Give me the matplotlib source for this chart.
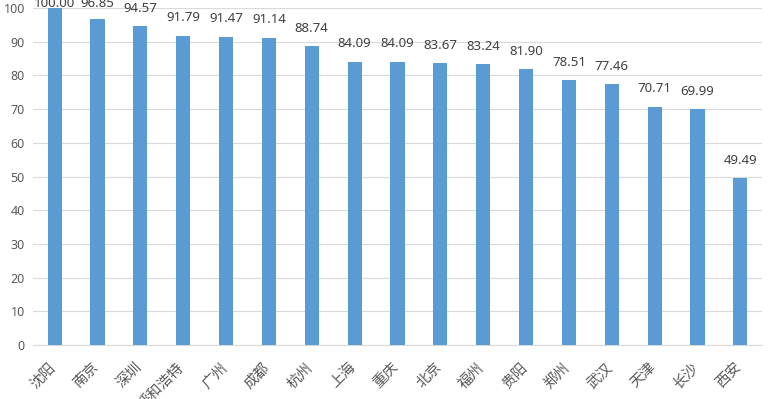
import matplotlib
matplotlib.use("Agg")
import matplotlib.pyplot as plt
import matplotlib.transforms as mtransforms
import numpy as np

plt.rcParams['font.family'] = ['Noto Sans CJK SC', 'DejaVu Sans']

cities = ['沈阳', '南京', '深圳', '呼和浩特', '广州', '成都', '杭州', '上海', '重庆',
          '北京', '福州', '贵阳', '郑州', '武汉', '天津', '长沙', '西安']
scores = [100.00, 96.85, 94.57, 91.79, 91.47, 91.14, 88.74, 84.09, 84.09,
          83.67, 83.24, 81.90, 78.51, 77.46, 70.71, 69.99, 49.49]

fig = plt.figure(figsize=(7.71, 3.99), dpi=100)
ax = fig.add_axes([0.043, 0.135, 0.945, 0.845])

x = np.arange(len(cities))
ax.bar(x, scores, width=0.33, color='#5B9BD5', zorder=3)

# data labels above bars, pushed down near the top like Excel does
for xi, v in zip(x, scores):
    ax.text(xi, min(v + 5.3, 101.2), f'{v:.2f}', ha='center', va='center',
            fontsize=9.5, color='#404040', family='Noto Sans', clip_on=False)

ax.set_xlim(-0.5, len(cities) - 0.5)
ax.set_ylim(0, 100)
ax.set_yticks(range(0, 101, 10))
ax.yaxis.grid(True, color='#D9D9D9', linewidth=0.8, zorder=0)
ax.set_axisbelow(True)

ax.set_xticks(x)
ax.tick_params(axis='both', length=0, colors='#595959')
ax.tick_params(axis='y', labelsize=9, pad=6)
ax.tick_params(axis='x', labelsize=10.5, pad=8)
ax.set_xticklabels(cities, rotation=45, ha='right', rotation_mode='anchor',
                   color='#595959')
shift = mtransforms.ScaledTranslation(-6 / 100, -4 / 100, fig.dpi_scale_trans)
for lab in ax.get_xticklabels():
    lab.set_transform(lab.get_transform() + shift)
for lab in ax.get_yticklabels():
    lab.set_family('Noto Sans')

for s in ['top', 'right', 'left']:
    ax.spines[s].set_visible(False)
ax.spines['bottom'].set_color('#D9D9D9')

fig.savefig('out.png', dpi=100)
